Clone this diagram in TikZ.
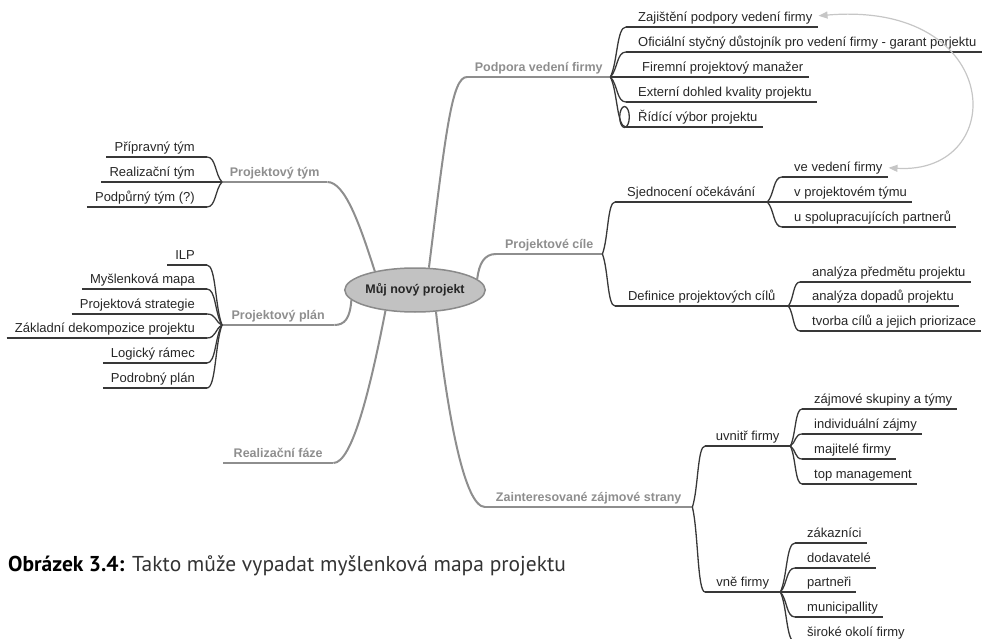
\documentclass[tikz,border=0pt]{standalone}
\usepackage{fontspec}
\setmainfont{Liberation Sans}
\newfontfamily\capfont{PT Sans}
\usetikzlibrary{arrows.meta,calc,shapes.geometric}

\definecolor{branch}{HTML}{8E8E8E}
\definecolor{ink}{HTML}{262626}
\definecolor{rule}{HTML}{383838}
\definecolor{rootfill}{HTML}{C2C2C2}
\definecolor{rootline}{HTML}{8A8A8A}
\definecolor{rel}{HTML}{C6C6C6}

\begin{document}
\begin{tikzpicture}[x=1pt,y=-1pt,
  every node/.style={font=\fontsize{13}{15}\selectfont, text=ink},
  rootnode/.style={ellipse, draw=rootline, line width=1.5pt, fill=rootfill,
    minimum width=124pt, minimum height=44pt, inner sep=0pt,
    font=\fontsize{12.5}{15}\selectfont\bfseries, text=ink},
  topic/.style={inner xsep=0pt, inner ysep=2.5pt, text height=10pt, text depth=3pt,
    font=\fontsize{12.5}{15}\selectfont\bfseries, text=branch},
  subtopic/.style={anchor=south west, inner xsep=0pt, inner ysep=2.5pt,
    text height=10pt, text depth=3pt},
  leafR/.style={anchor=south west, inner xsep=0pt, inner ysep=2.5pt,
    text height=10pt, text depth=3pt,
    execute at begin node=\hspace*{12pt}, execute at end node=\hspace*{5pt}},
  leafL/.style={anchor=south east, inner xsep=0pt, inner ysep=2.5pt,
    text height=10pt, text depth=3pt,
    execute at begin node=\hspace*{8pt}, execute at end node=\hspace*{12pt}},
  mainline/.style={draw=branch, line width=2pt},
  subline/.style={draw=rule, line width=1.3pt},
  % curly bracket from a junction to the start of a child's underline
  brace/.style={to path={let \p1=(\tikztostart), \p2=(\tikztotarget) in
    .. controls ({\x1+0.47*(\x2-\x1)},{\y1+0.3*(\y2-\y1)})
       and ({\x2-0.6*(\x2-\x1)},{\y2}) .. (\tikztotarget)}},
  relline/.style={draw=rel, line width=1.2pt,
    {Triangle[length=9pt,width=7pt,fill=rel]}-{Triangle[length=9pt,width=7pt,fill=rel]}}
]
\useasboundingbox (0,0) rectangle (985,639);

% central topic
\node[rootnode] (root) at (415,290) {Můj nový projekt};

% ---------- right side ----------
\node[topic, anchor=south west, minimum width=143pt] (pod) at (467,77) {Podpora vedení firmy};
\node[leafR] (zaj) at (626,27)  {Zajištění podpory vedení firmy};
\node[leafR] (ofi) at (626,52)  {Oficiální styčný důstojník pro vedení firmy - garant porjektu};
\node[leafR] (fir) at (626,77)  {\hspace*{4pt}Firemní projektový manažer};
\node[leafR] (ext) at (626,102) {Externí dohled kvality projektu};
\node[leafR] (rid) at (626,127) {Řídící výbor projektu};

\node[topic, anchor=south west, minimum width=106pt] (cil) at (496,254) {Projektové cíle};
\node[subtopic, minimum width=152pt] (sje) at (615,202) {Sjednocení očekávání};
\node[leafR] (vve) at (782,177) {ve vedení firmy};
\node[leafR] (vpt) at (782,202) {v projektovém týmu};
\node[leafR] (usp) at (782,227) {u spolupracujících partnerů};
\node[subtopic, minimum width=173pt] (def) at (615,306) {Definice projektových cílů};
\node[leafR] (apr) at (800,282) {analýza předmětu projektu};
\node[leafR] (ado) at (800,306) {analýza dopadů projektu};
\node[leafR] (tvo) at (800,331) {tvorba cílů a jejich priorizace};

\node[topic, anchor=south west, minimum width=207pt] (zai) at (485,507) {Zainteresované zájmové strany};
\node[subtopic, minimum width=85pt] (uvn) at (705,446) {uvnitř firmy};
\node[leafR] (zsk) at (802,409) {zájmové skupiny a týmy};
\node[leafR] (ind) at (802,434) {individuální zájmy};
\node[leafR] (maj) at (802,459) {majitelé firmy};
\node[leafR] (tmg) at (802,484) {top management};
\node[subtopic, minimum width=75pt] (vne) at (705,592) {vně firmy};
\node[leafR] (zkz) at (795,543) {zákazníci};
\node[leafR] (dod) at (795,568) {dodavatelé};
\node[leafR] (par) at (795,592) {partneři};
\node[leafR] (mun) at (795,617) {municipallity};
\node[leafR] (sir) at (795,642) {široké okolí firmy};

% ---------- left side ----------
\node[topic, anchor=south west, minimum width=105pt] (tym) at (222,182) {Projektový tým};
\node[leafL] (pri) at (207,157) {Přípravný tým};
\node[leafL] (rea) at (207,182) {Realizační tým};
\node[leafL] (pdp) at (207,207) {Podpůrný tým (?)};

\node[topic, anchor=south west, minimum width=112pt] (pla) at (222,325) {Projektový plán};
\node[leafL] (ilp) at (207,265) {ILP};
\node[leafL] (mys) at (207,289) {Myšlenková mapa};
\node[leafL] (stg) at (207,314) {Projektová strategie};
\node[leafL] (zdk) at (207,338) {Základní dekompozice projektu};
\node[leafL] (lrm) at (207,363) {Logický rámec};
\node[leafL] (pdr) at (207,388) {Podrobný plán};

\node[topic, anchor=south west, minimum width=110pt] (rfz) at (223,463) {Realizační fáze};

% underlines of the topics
\foreach \n in {pod,cil,zai,tym,pla,rfz}
  \draw[mainline] (\n.south west) -- (\n.south east);
\foreach \n in {zaj,ofi,fir,ext,rid,sje,vve,vpt,usp,def,apr,ado,tvo,
                uvn,zsk,ind,maj,tmg,vne,zkz,dod,par,mun,sir,
                pri,rea,pdp,ilp,mys,stg,zdk,lrm,pdr}
  \draw[subline] (\n.south west) -- (\n.south east);

% main branches from the central topic
\draw[mainline] (root.58)  .. controls (446,130) and (452,77)  .. (pod.south west);
\draw[mainline] (root.10)  .. controls (479,264) and (484,254) .. (cil.south west);
\draw[mainline] (root.314) .. controls (448,420) and (465,507) .. (zai.south west);
\draw[mainline] (root.155) .. controls (360,225) and (345,182) .. (tym.south east);
\draw[mainline] (root.189) .. controls (350,318) and (345,325) .. (pla.south east);
\draw[mainline] (root.215) .. controls (370,390) and (352,463) .. (rfz.south east);

% brackets to the subtopics
\foreach \c in {zaj,ofi,fir,ext,rid}
  \draw[subline] (pod.south east) to[brace] (\c.south west);
\foreach \c in {sje,def}
  \draw[subline] (cil.south east) to[brace] (\c.south west);
\foreach \c in {vve,vpt,usp}
  \draw[subline] (sje.south east) to[brace] (\c.south west);
\foreach \c in {apr,ado,tvo}
  \draw[subline] (def.south east) to[brace] (\c.south west);
\foreach \c in {uvn,vne}
  \draw[subline] (zai.south east) to[brace] (\c.south west);
\foreach \c in {zsk,ind,maj,tmg}
  \draw[subline] (uvn.south east) to[brace] (\c.south west);
\foreach \c in {zkz,dod,par,mun,sir}
  \draw[subline] (vne.south east) to[brace] (\c.south west);
\foreach \c in {pri,rea,pdp}
  \draw[subline] (tym.south west) to[brace] (\c.south east);
\foreach \c in {ilp,mys,stg,zdk,lrm,pdr}
  \draw[subline] (pla.south west) to[brace] (\c.south east);

% collapse marker beside the last item
\draw[subline] ([xshift=-1.5pt,yshift=10pt]rid.south west) ellipse [x radius=4.8pt, y radius=10.5pt];

% relationship between two topics
\draw[relline] ([xshift=1pt,yshift=2pt]zaj.east) .. controls (1005,0) and (1010,175) .. ([xshift=1pt]vve.east);

% caption
\node[anchor=base west, inner sep=0pt, font=\capfont\fontsize{21.5}{25}\selectfont, text=black!80]
  (cap) at (8,571) {\textbf{\color{black}Obrázek 3.4:} Takto může vypadat myšlenková mapa projektu};
\end{tikzpicture}
\end{document}
